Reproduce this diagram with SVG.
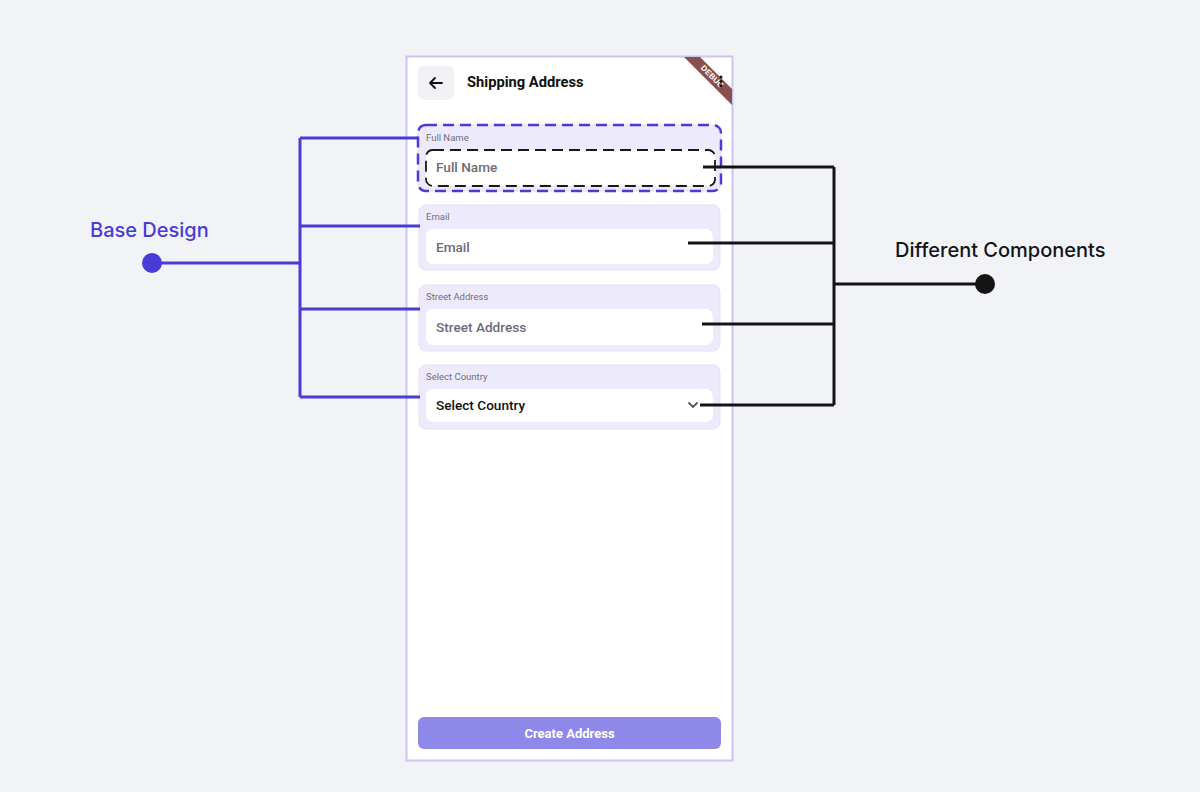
<svg xmlns="http://www.w3.org/2000/svg" width="1200" height="792" viewBox="0 0 1200 792">
<defs>
<style>
.card{fill:#edebfb;stroke:#e2e0f3;stroke-width:1}
.field{fill:#ffffff}
.lbl{font-family:Roboto,"Liberation Sans",sans-serif;font-size:9.5px;fill:#6f6f80}
.ph{font-family:Roboto,"Liberation Sans",sans-serif;font-size:13.6px;fill:#6b6b78;font-weight:500}
.pur{stroke:#4a3bd8;stroke-width:3;fill:none}
.blk{stroke:#141414;stroke-width:3;fill:none}
.big{font-family:Inter,"Open Sans",sans-serif;font-size:20px;font-weight:500}
</style>
</defs>
<rect width="1200" height="792" fill="#f2f3f7"/>
<g id="phone">
<rect x="406.5" y="56.5" width="326" height="704" fill="#ffffff" stroke="#c9c4f1" stroke-width="2"/>
<rect x="418" y="66" width="36" height="34" rx="6" fill="#f1f1f6"/>
<path d="M442 83H430M435 78l-5 5 5 5" stroke="#111" stroke-width="1.8" fill="none" stroke-linecap="round" stroke-linejoin="round"/>
<text x="467" y="87" font-family="Roboto,'Liberation Sans',sans-serif" font-size="14.7" font-weight="700" fill="#111">Shipping Address</text>
<polygon points="684,57 700,57 732,89 732,105" fill="#8a4f4a"/>
<text x="0" y="0" transform="translate(710.5,78.5) rotate(45)" text-anchor="middle" font-family="'Liberation Sans',sans-serif" font-size="8" font-weight="700" fill="#ffffff">DEBUG</text>
<circle cx="721" cy="77" r="1.5" fill="#111"/><circle cx="721" cy="81.5" r="1.5" fill="#111"/><circle cx="721" cy="86" r="1.5" fill="#111"/>
</g>
<g id="full-name">
<rect x="418" y="125" width="303" height="66" rx="8" class="card" stroke="none"/>
<rect x="418" y="125" width="303" height="66" rx="8" fill="none" stroke="#4a3bd8" stroke-width="2.5" stroke-dasharray="11,6"/>
<text x="426" y="141" class="lbl">Full Name</text>
<rect x="426" y="150" width="289" height="36" rx="7" class="field"/>
<rect x="426" y="150" width="289" height="36" rx="7" fill="none" stroke="#1a1a1a" stroke-width="1.8" stroke-dasharray="11,6"/>
<text x="436" y="172" class="ph">Full Name</text>
</g>
<g id="email">
<rect x="419" y="205" width="301" height="65" rx="7" class="card"/>
<text x="426" y="220" class="lbl">Email</text>
<rect x="426" y="229" width="287" height="35" rx="7" class="field"/>
<text x="436" y="252" class="ph">Email</text>
</g>
<g id="street">
<rect x="419" y="285" width="301" height="66" rx="7" class="card"/>
<text x="426" y="300" class="lbl">Street Address</text>
<rect x="426" y="309" width="287" height="36" rx="7" class="field"/>
<text x="436" y="332" class="ph">Street Address</text>
</g>
<g id="country">
<rect x="419" y="365" width="301" height="64" rx="7" class="card"/>
<text x="426" y="380" class="lbl">Select Country</text>
<rect x="426" y="389" width="287" height="33" rx="7" class="field"/>
<text x="436" y="410" font-family="Roboto,'Liberation Sans',sans-serif" font-size="13.6" font-weight="500" fill="#111">Select Country</text>
<path d="M689 403l4 4 4-4" stroke="#555" stroke-width="1.8" fill="none" stroke-linecap="round"/>
</g>
<g id="create-button">
<rect x="418" y="717" width="303" height="32" rx="6" fill="#8e88e8"/>
<text x="569.5" y="738" text-anchor="middle" font-family="Roboto,'Liberation Sans',sans-serif" font-size="13" font-weight="700" fill="#ffffff">Create Address</text>
</g>
<g id="connectors">
<path class="pur" d="M152 263H300M300 138V397M300 138H418M300 226H420M300 309H420M300 397H420"/>
<circle cx="152" cy="263" r="10" fill="#4a3bd8"/>
<path class="blk" d="M834 284H985M834 167V405M703 167H834M688 243H834M702 324H834M700 405H834"/>
<circle cx="985" cy="284" r="10" fill="#141414"/>
</g>
<g id="base-design">
<text x="90" y="237" class="big" fill="#4a3bd8">Base Design</text>
</g>
<g id="different-components">
<text x="895" y="257" class="big" fill="#141414">Different Components</text>
</g>
</svg>
